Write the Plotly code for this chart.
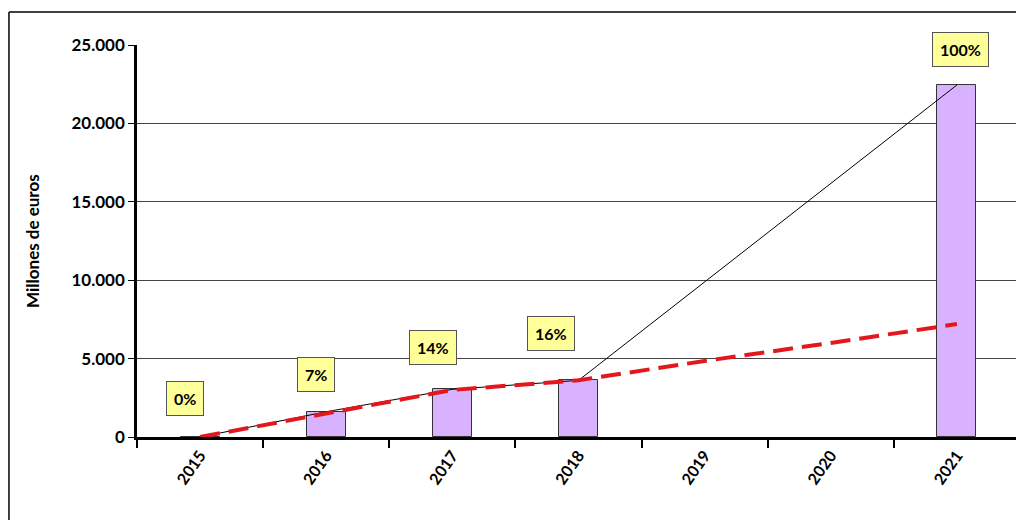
import plotly.graph_objects as go

years = ["2015", "2016", "2017", "2018", "2019", "2020", "2021"]
amounts = [0, 1610, 3040, 3610, None, None, 22450]
trend = [0, 1480, 3000, 3620, 4850, 6000, 7200]
pct_labels = ["0%", "7%", "14%", "16%", None, None, "100%"]
y_ticks = [0, 5000, 10000, 15000, 20000, 25000]
y_ticklabels = ["0", "5.000", "10.000", "15.000", "20.000", "25.000"]

# label placement styles (pixel offsets)
label_dx = [-15, -10, -19, -28, 0, 0, 4]
label_dy = [39, 37, 42, 47, 0, 0, 35]

fig = go.Figure()
fig.add_trace(go.Bar(
    x=years, y=amounts, width=0.31,
    marker=dict(color="#D8B2FF", line=dict(color="#333333", width=1)),
    hoverinfo="skip",
))
fig.add_trace(go.Scatter(
    x=years, y=amounts, mode="lines", connectgaps=True,
    line=dict(color="black", width=1), hoverinfo="skip",
))
fig.add_trace(go.Scatter(
    x=years, y=trend, mode="lines",
    line=dict(color="#E3171C", width=4, dash="20px,9px"), hoverinfo="skip",
))

for i, lab in enumerate(pct_labels):
    if lab is None:
        continue
    fig.add_annotation(
        x=i, y=amounts[i] or 0, xref="x", yref="y", text="<b>%s</b>" % lab,
        showarrow=False, xshift=label_dx[i], yshift=label_dy[i],
        bgcolor="#FFFF99", bordercolor="#555555", borderwidth=1, borderpad=7,
        font=dict(size=16, color="black", family="Lato"),
    )

# y axis title
fig.add_annotation(
    x=-0.119, y=0.5, xref="paper", yref="paper", text="<b>Millones de euros</b>",
    xanchor="center", yanchor="middle",
    textangle=-90, showarrow=False, font=dict(size=17, family="Lato", color="black"),
)

# outer frame (left and top edges; the rest lies outside the picture)
frame = dict(color="black", width=1.5)
fig.add_shape(type="line", xref="paper", yref="paper",
              x0=-0.145, x1=-0.145, y0=-0.5, y1=1.084, line=frame, layer="below")
fig.add_shape(type="line", xref="paper", yref="paper",
              x0=-0.145, x1=1.2, y0=1.084, y1=1.084, line=frame, layer="below")

fig.update_layout(
    width=1016, height=512,
    margin=dict(l=129, r=4, t=37, b=83),
    paper_bgcolor="white", plot_bgcolor="white",
    showlegend=False,
    font=dict(family="Lato", color="black"),
    bargap=0,
)
fig.update_xaxes(
    type="category", tickson="boundaries", ticks="outside", ticklen=8,
    tickwidth=1.5, tickcolor="black",
    showline=True, linecolor="black", linewidth=2.5,
    tickangle=-55, tickfont=dict(size=16, family="Lato", color="black"),
    showgrid=False, range=[-0.5, 6.5], automargin=False,
    tickvals=years, ticktext=["<b>%s</b>" % y for y in years],
)
fig.update_yaxes(
    range=[0, 25000],
    tickvals=y_ticks, ticktext=["<b>%s</b>" % t for t in y_ticklabels],
    ticks="outside", ticklen=6, tickcolor="black",
    showline=True, linecolor="black", linewidth=2.5,
    showgrid=True, gridcolor="#444444", gridwidth=1,
    tickfont=dict(size=17, family="Lato", color="black"),
    zeroline=False, automargin=False,
)

fig.write_html("out.html")
